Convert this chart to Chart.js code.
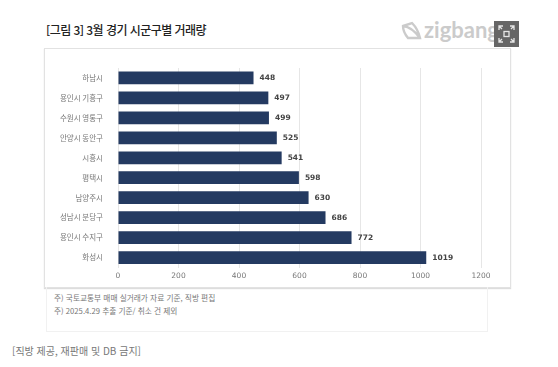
<!DOCTYPE html>
<html lang="ko">
<head>
<meta charset="utf-8">
<title>3월 경기 시군구별 거래량</title>
<script src="https://cdn.jsdelivr.net/npm/chart.js@4/dist/chart.umd.min.js"></script>
<style>
  html, body { margin: 0; padding: 0; background: #fff; }
  body { width: 558px; height: 367px; overflow: hidden; position: relative; font-family: "Noto Sans CJK KR", "Noto Sans", sans-serif; }
  #titulo { position: absolute; left: 46px; top: 21px; font-size: 12px; line-height: 18px; color: #222; font-weight: 500; white-space: nowrap; letter-spacing: -0.55px; }
  #logo { position: absolute; left: 400px; top: 19px; width: 110px; height: 24px; }
  #logo span { position: absolute; left: 24px; top: -1px; font: bold 22px/24px Lato, sans-serif; color: #cbcbcb; }
  #expandir { position: absolute; left: 494px; top: 21px; width: 25px; height: 26px; background: #666; }
  #moldura { position: absolute; left: 44px; top: 48px; width: 465px; height: 238px; border: 1px solid #e2e2e2; box-shadow: 0 1px 1px #ddd; }
  #moldura canvas { position: absolute; left: 0; top: 0; }
  #notas { position: absolute; left: 46px; top: 287px; width: 440px; height: 44px; border: 1px solid #f1f1f1; border-top: 0; }
  #notas p { margin: 0; position: absolute; left: 7px; font-size: 7.7px; line-height: 12px; color: #777; white-space: nowrap; }
  #fonte { position: absolute; left: 12px; top: 344px; font-size: 10px; line-height: 14px; color: #777; white-space: nowrap; }
</style>
</head>
<body>
<div id="titulo">[그림 3] 3월 경기 시군구별 거래량</div>
<div id="logo">
  <svg width="23" height="24" viewBox="0 0 23 24"><path d="M3 7 L12 4 Q18 10 20 19 L8 19 Q3 13 3 7 Z M3 7 Q12 8 20 19" fill="none" stroke="#cbcbcb" stroke-width="2.4"/></svg>
  <span>zigbang</span>
</div>
<div id="expandir">
  <svg width="25" height="26" viewBox="0 0 25 26" fill="none" stroke="#e6e6e6" stroke-width="1.3">
    <rect x="10" y="10.5" width="5" height="5"/>
    <path d="M5 9 V5 H9 M5 5 L8 8 M20 9 V5 H16 M20 5 L17 8 M5 17 V21 H9 M5 21 L8 18 M20 17 V21 H16 M20 21 L17 18"/>
  </svg>
</div>
<div id="moldura"><canvas id="graficoTransacoes" width="465" height="238"></canvas></div>
<div id="notas">
  <p style="top:5px">주) 국토교통부 매매 실거래가 자료 기준, 직방 편집</p>
  <p style="top:18px">주) 2025.4.29 추출 기준/ 취소 건 제외</p>
</div>
<div id="fonte">[직방 제공, 재판매 및 DB 금지]</div>

<script>
// dados
const regioes = ["하남시", "용인시 기흥구", "수원시 영통구", "안양시 동안구", "시흥시", "평택시", "남양주시", "성남시 분당구", "용인시 수지구", "화성시"];
const transacoes = [448, 497, 499, 525, 541, 598, 630, 686, 772, 1019];
const eixoMax = 1200;
const eixoPasso = 200;

// rótulo de valor na ponta de cada barra
const rotulosValor = {
  id: "rotulosValor",
  afterDatasetsDraw(chart) {
    const ctx = chart.ctx;
    ctx.save();
    ctx.font = "bold 7.5px 'DejaVu Sans'";
    ctx.fillStyle = "#444";
    ctx.textBaseline = "middle";
    chart.getDatasetMeta(0).data.forEach((barra, i) => {
      ctx.fillText(transacoes[i], barra.x + 6, barra.y + 0.5);
    });
    ctx.restore();
  },
};

const ctx = document.getElementById("graficoTransacoes").getContext("2d");
new Chart(ctx, {
  type: "bar",
  data: {
    labels: regioes,
    datasets: [
      {
        data: transacoes,
        backgroundColor: "#243a61",
        barPercentage: 0.64,
        categoryPercentage: 1,
      },
    ],
  },
  options: {
    indexAxis: "y",
    responsive: false,
    animation: false,
    layout: { padding: { top: 19, right: 29, bottom: 0, left: 0 } },
    plugins: { legend: { display: false }, tooltip: { enabled: false } },
    scales: {
      x: {
        min: 0,
        max: eixoMax,
        ticks: {
          stepSize: eixoPasso,
          color: "#777",
          font: { family: "'DejaVu Sans'", size: 7.5 },
          padding: 4,
          callback: (v) => String(v),
        },
        grid: { color: "#e6e6e6", drawTicks: false },
        border: { display: false },
        afterFit(eixo) { eixo.height = 19.5; },
      },
      y: {
        ticks: {
          color: "#777",
          font: { family: "'Noto Sans CJK KR'", size: 7.5 },
          padding: 7,
          autoSkip: false,
        },
        grid: { display: false },
        border: { display: false },
        afterFit(eixo) { eixo.width = 73; },
      },
    },
  },
  plugins: [rotulosValor],
});
</script>
</body>
</html>
